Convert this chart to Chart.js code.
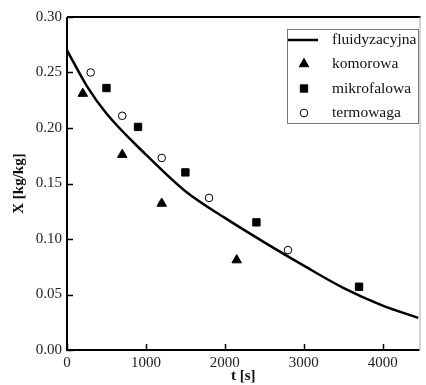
<!DOCTYPE html>
<html>
<head>
<meta charset="utf-8">
<script src="https://cdn.jsdelivr.net/npm/chart.js@4/dist/chart.umd.min.js"></script>
<style>
html,body{margin:0;padding:0;background:#fff;}
#wrap{width:426px;height:385px;position:relative;}
</style>
</head>
<body>
<div id="wrap"><canvas id="c"></canvas></div>
<script>
// ---- data ----
const curveT   = [0,250,500,1000,1500,2000,2500,3000,3500,4000,4450];
const curveX   = [0.270,0.238,0.213,0.176,0.143,0.119,0.097,0.076,0.056,0.040,0.029];
const komorowaT = [200,700,1200,2150];
const komorowaX = [0.231,0.176,0.132,0.081];
const mikroT = [500,900,1500,2400,3700];
const mikroX = [0.236,0.201,0.160,0.115,0.057];
const termoT = [300,700,1200,1800,2800];
const termoX = [0.250,0.211,0.173,0.137,0.090];
const seriesNames = ['fluidyzacyjna','komorowa','mikrofalowa','termowaga'];
const xTickValues = [0,1000,2000,3000,4000];
const xTickLabels = ['0','1000','2000','3000','4000'];
const yTickValues = [0,0.05,0.10,0.15,0.20,0.25,0.30];
const yTickLabels = ['0.00','0.05','0.10','0.15','0.20','0.25','0.30'];
const xTitle = 't [s]';
const yTitle = 'X [kg/kg]';

const pts = (xs, ys) => xs.map((x,i)=>({x:x, y:ys[i]}));
const FONT = "'Liberation Serif', 'Times New Roman', serif";

const insideTicks = {
  id:'insideTicks',
  afterDraw(chart){
    const ctx = chart.ctx, a = chart.chartArea;
    const xs = chart.scales.x, ys = chart.scales.y;
    ctx.save();
    ctx.strokeStyle = '#000';
    ctx.lineWidth = 1.5;
    xs.ticks.forEach(t=>{
      const px = Math.round(xs.getPixelForValue(t.value))+0.5;
      ctx.beginPath(); ctx.moveTo(px, a.bottom); ctx.lineTo(px, a.bottom-6); ctx.stroke();
    });
    ys.ticks.forEach(t=>{
      const py = Math.round(ys.getPixelForValue(t.value))+0.5;
      ctx.beginPath(); ctx.moveTo(a.left, py); ctx.lineTo(a.left+6, py); ctx.stroke();
    });
    // frame: left, bottom, top (black), right (light)
    ctx.lineWidth = 2;
    ctx.beginPath();
    ctx.moveTo(a.left, a.top); ctx.lineTo(a.left, a.bottom); ctx.lineTo(a.right, a.bottom);
    ctx.moveTo(a.left, a.top); ctx.lineTo(a.right+1, a.top);
    ctx.stroke();
    ctx.strokeStyle = '#aaa'; ctx.lineWidth = 1;
    ctx.beginPath(); ctx.moveTo(a.right+0.5, a.top); ctx.lineTo(a.right+0.5, a.bottom); ctx.stroke();

    // legend box
    const lx = 287.5, ly = 29.5, lw = 131, lh = 94;
    ctx.fillStyle = '#fff';
    ctx.fillRect(lx, ly, lw, lh);
    ctx.strokeStyle = '#777'; ctx.lineWidth = 1;
    ctx.strokeRect(lx, ly, lw, lh);
    const rowY = [40, 64, 88.5, 113];
    const ds = chart.data.datasets;
    ctx.textBaseline = 'middle';
    ds.forEach((d,i)=>{
      const y = rowY[i];
      if (i === 0) {
        ctx.strokeStyle = '#000'; ctx.lineWidth = 2.5;
        ctx.beginPath(); ctx.moveTo(288, y); ctx.lineTo(318, y); ctx.stroke();
      } else {
        ctx.fillStyle = d.backgroundColor; ctx.strokeStyle = d.borderColor; ctx.lineWidth = d.borderWidth;
        Chart.helpers.drawPoint(ctx, {pointStyle: d.pointStyle, radius: d.pointRadius, borderWidth: d.borderWidth}, 304, y);
      }
      ctx.fillStyle = '#111';
      ctx.font = "15.5px " + FONT;
      ctx.fillText(d.label, 332, y);
    });
    ctx.restore();
  }
};

new Chart(document.getElementById('c'), {
  type: 'scatter',
  data: {
    datasets: [
      {label: seriesNames[0], data: pts(curveT, curveX), showLine: true, borderColor:'#000', borderWidth:2.5,
       pointRadius:0, cubicInterpolationMode:'monotone', fill:false, backgroundColor:'#000'},
      {label: seriesNames[1], data: pts(komorowaT, komorowaX), pointStyle:'triangle', pointRadius:5.5,
       backgroundColor:'#000', borderColor:'#000', borderWidth:1},
      {label: seriesNames[2], data: pts(mikroT, mikroX), pointStyle:'rect', pointRadius:5.2,
       backgroundColor:'#000', borderColor:'#000', borderWidth:1},
      {label: seriesNames[3], data: pts(termoT, termoX), pointStyle:'circle', pointRadius:3.8,
       backgroundColor:'#fff', borderColor:'#000', borderWidth:1}
    ]
  },
  options: {
    responsive: true,
    maintainAspectRatio: false,
    animation: false,
    devicePixelRatio: 1,
    layout: {padding: {left:0, right:1, top:17, bottom:0}},
    plugins: {legend:{display:false}, tooltip:{enabled:false}},
    scales: {
      x: {
        type:'linear', min:0, max:4466,
        border:{display:false},
        grid:{display:false, drawTicks:false},
        afterBuildTicks: s => { s.ticks = xTickValues.map(v=>({value:v})); },
        afterFit: s => { s.height = 35; },
        ticks:{font:{family:FONT, size:15}, color:'#222', padding:4, maxRotation:0,
               callback: (v) => { const i = xTickValues.indexOf(v); return i>=0 ? xTickLabels[i] : ''; }},
        title:{display:true, text:xTitle, font:{family:FONT, size:15, weight:'bold'}, color:'#111', padding:{top:0,bottom:0}}
      },
      y: {
        type:'linear', min:0, max:0.30,
        border:{display:false},
        grid:{display:false, drawTicks:false},
        afterBuildTicks: s => { s.ticks = yTickValues.map(v=>({value:v})); },
        afterFit: s => { s.width = 67; },
        ticks:{font:{family:FONT, size:15}, color:'#222', padding:5,
               callback: (v) => { const i = yTickValues.findIndex(t=>Math.abs(t-v)<1e-9); return i>=0 ? yTickLabels[i] : ''; }},
        title:{display:true, text:yTitle, font:{family:FONT, size:15, weight:'bold'}, color:'#111', padding:{top:10,bottom:0}}
      }
    }
  },
  plugins:[insideTicks]
});
</script>
</body>
</html>
